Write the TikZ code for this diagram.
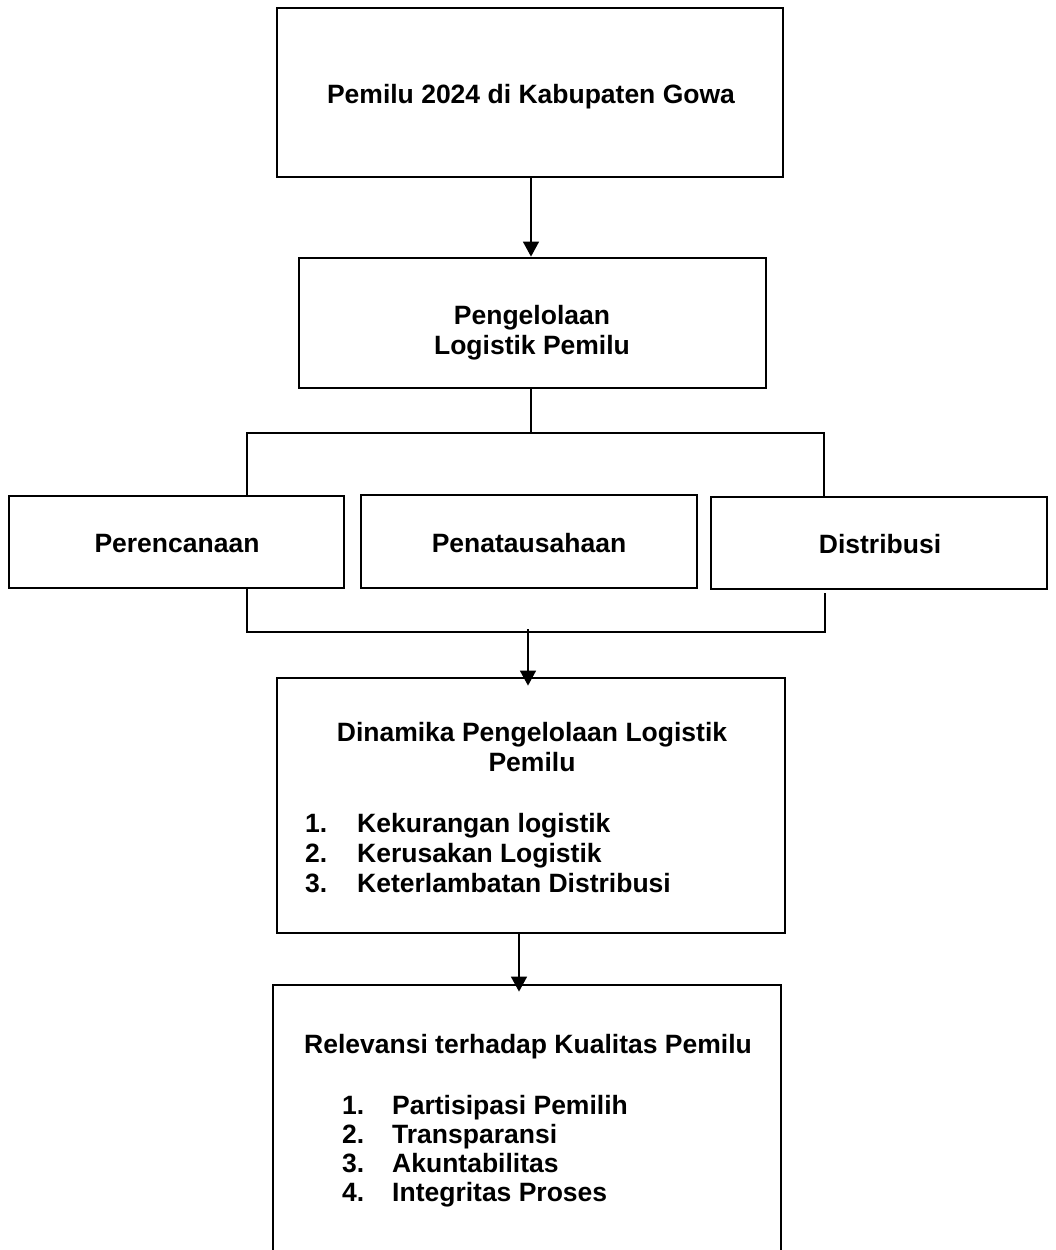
\documentclass[tikz,border=0pt]{standalone}
\usepackage{fontspec}
\setmainfont{Liberation Sans}
\usetikzlibrary{arrows.meta}
\begin{document}
\begin{tikzpicture}[x=1pt,y=-1pt,
  box/.style={draw=black, line width=2.8pt, inner sep=0pt},
  lbl/.style={font=\fontsize{26.5}{30}\selectfont\bfseries, inner sep=0pt, anchor=base},
  lst/.style={font=\fontsize{26.5}{30}\selectfont\bfseries, inner sep=0pt, anchor=base west},
  conn/.style={line width=1.4pt},
  arr/.style={line width=1.4pt, -{Triangle[width=16pt,length=15pt]}}]
\useasboundingbox (0,0) rectangle (1055,1250);
\fill[white] (0,0) rectangle (1055,1250);
% boxes
\node[box, minimum width=506pt, minimum height=169pt] (b1) at (530,92.5) {};
\node[box, minimum width=467pt, minimum height=130pt] (b2) at (532.5,323) {};
\node[box, minimum width=335pt, minimum height=92pt] (b3) at (176.5,542) {};
\node[box, minimum width=336pt, minimum height=93pt] (b4) at (529,541.5) {};
\node[box, minimum width=336pt, minimum height=92pt] (b5) at (879,543) {};
\node[box, minimum width=508pt, minimum height=255pt] (b6) at (531,805.5) {};
\node[box, minimum width=508pt, minimum height=280pt] (b7) at (527,1125) {};
% texts
\node[lbl] (t1) at (531,103) {Pemilu 2024 di Kabupaten Gowa};
\node[lbl] (t2a) at (532,324) {Pengelolaan};
\node[lbl] (t2b) at (532,354) {Logistik Pemilu};
\node[lbl] (t3) at (177,552) {Perencanaan};
\node[lbl] (t4) at (529,552) {Penatausahaan};
\node[lbl] (t5) at (880,553) {Distribusi};
\node[lbl] (t6a) at (532,741) {Dinamika Pengelolaan Logistik};
\node[lbl] (t6b) at (532,771) {Pemilu};
\node[lst] (n61) at (305,832) {1.};
\node[lst] (i61) at (357,832) {Kekurangan logistik};
\node[lst] (n62) at (305,862) {2.};
\node[lst] (i62) at (357,862) {Kerusakan Logistik};
\node[lst] (n63) at (305,892) {3.};
\node[lst] (i63) at (357,892) {Keterlambatan Distribusi};
\node[lbl] (t7) at (528,1053) {Relevansi terhadap Kualitas Pemilu};
\node[lst] (n71) at (342,1114) {1.};
\node[lst] (i71) at (392,1114) {Partisipasi Pemilih};
\node[lst] (n72) at (342,1143) {2.};
\node[lst] (i72) at (392,1143) {Transparansi};
\node[lst] (n73) at (342,1172) {3.};
\node[lst] (i73) at (392,1172) {Akuntabilitas};
\node[lst] (n74) at (342,1201) {4.};
\node[lst] (i74) at (392,1201) {Integritas Proses};
% connectors
\coordinate (a1) at (531,182);
\coordinate (j1) at (531,433);
\coordinate (jl) at (247,433);
\coordinate (jr) at (824,433);
\coordinate (kl) at (247,632);
\coordinate (kr) at (825,632);
\coordinate (km) at (528,632);
\coordinate (a3) at (519,940);
\draw[arr] (a1 |- b1.south) -- (a1 |- b2.north);
\draw[conn] (j1 |- b2.south) -- (j1);
\draw[conn] (jl |- b3.north) -- (jl) -- (jr) -- (jr |- b5.north);
\draw[conn] (kl |- b3.south) -- (kl) -- (kr) -- ([yshift=-3pt]kr |- b5.south);
\draw[arr] ([yshift=3pt]km) -- ([yshift=-9pt]km |- b6.north);
\draw[arr] (a3 |- b6.south) -- ([yshift=-8pt]a3 |- b7.north);
\end{tikzpicture}
\end{document}
